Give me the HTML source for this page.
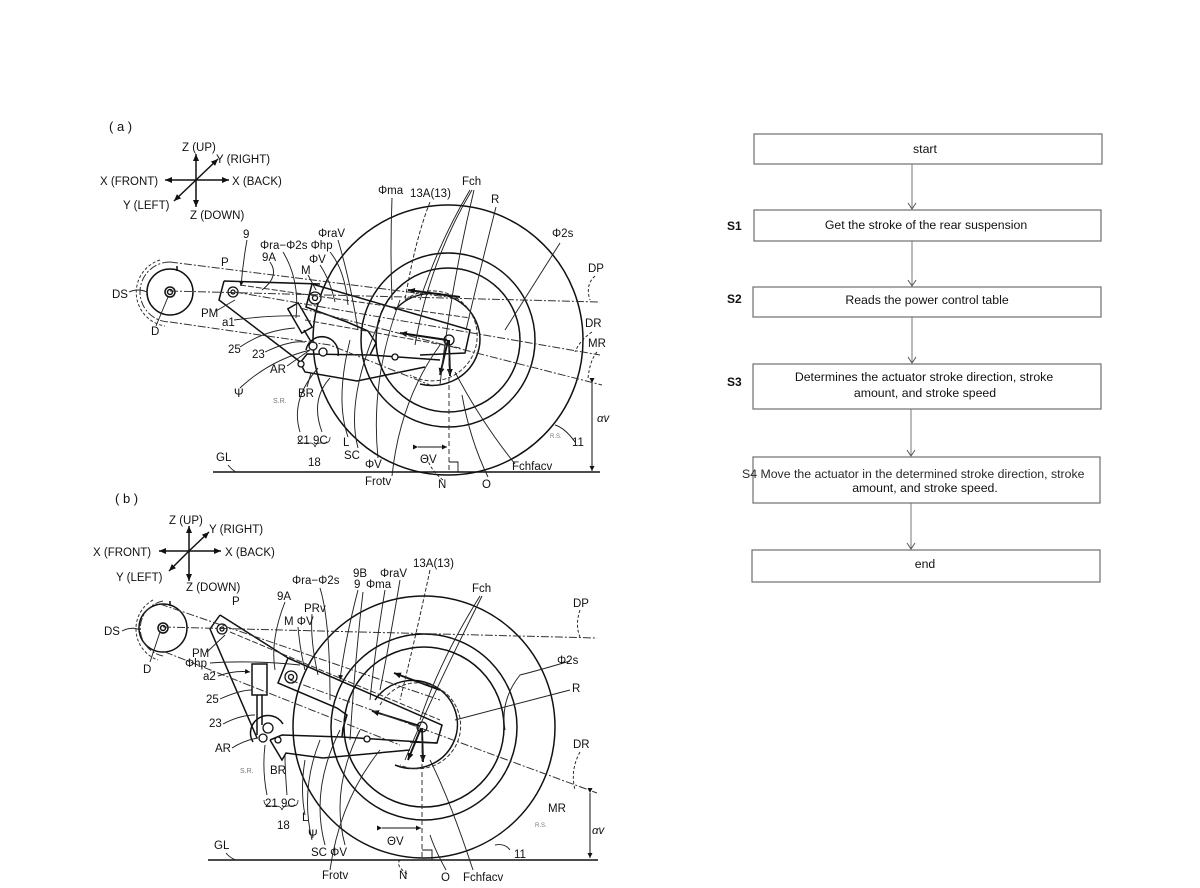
<!DOCTYPE html>
<html><head><meta charset="utf-8"><style>
html,body{margin:0;padding:0;background:#fff;}
svg{display:block;}
text{font-family:"Liberation Sans",sans-serif;fill:#111;}
.l{font-size:11.5px;}
.s{font-size:6px;fill:#777;}
.fc{font-size:12.3px;fill:#2a2a2a;}
</style></head><body>
<svg width="1200" height="888" viewBox="0 0 1200 888" xmlns="http://www.w3.org/2000/svg">
<defs>
<marker id="ah" markerWidth="8" markerHeight="8" refX="7" refY="4" orient="auto" markerUnits="userSpaceOnUse"><path d="M0,1 L7,4 L0,7 Z" fill="#111"/></marker>
<marker id="sh" markerWidth="6" markerHeight="6" refX="5" refY="3" orient="auto" markerUnits="userSpaceOnUse"><path d="M0,0.5 L5,3 L0,5.5 Z" fill="#111"/></marker>
<marker id="va" markerWidth="10" markerHeight="10" refX="9" refY="5" orient="auto" markerUnits="userSpaceOnUse"><path d="M3,1 L9,5 L3,9" fill="none" stroke="#555" stroke-width="1"/></marker>
</defs>
<rect width="1200" height="888" fill="#fff"/>

<!-- ================= FLOWCHART ================= -->
<g stroke="#6f6f6f" stroke-width="1.2" fill="#fff">
<rect x="754" y="134" width="348" height="30"/>
<rect x="754" y="210" width="347" height="31"/>
<rect x="753" y="287" width="348" height="30"/>
<rect x="753" y="364" width="348" height="45"/>
<rect x="753" y="457" width="347" height="46"/>
<rect x="752" y="550" width="348" height="32"/>
</g>
<g stroke="#777" stroke-width="1" fill="none">
<line x1="912" y1="164" x2="912" y2="209" marker-end="url(#va)"/>
<line x1="912" y1="241" x2="912" y2="286" marker-end="url(#va)"/>
<line x1="912" y1="317" x2="912" y2="363" marker-end="url(#va)"/>
<line x1="911" y1="409" x2="911" y2="456" marker-end="url(#va)"/>
<line x1="911" y1="503" x2="911" y2="549" marker-end="url(#va)"/>
</g>
<g text-anchor="middle" class="fc">
<text x="925" y="153">start</text>
<text x="926" y="229">Get the stroke of the rear suspension</text>
<text x="927" y="304">Reads the power control table</text>
<text x="924" y="381">Determines the actuator stroke direction, stroke</text>
<text x="925" y="397">amount, and stroke speed</text>
<text x="925" y="492">amount, and stroke speed.</text>
<text x="925" y="568">end</text>
</g>
<text x="742" y="478" class="fc">S4 Move the actuator in the determined stroke direction, stroke</text>
<g font-weight="bold" style="font-size:12px">
<text x="727" y="230">S1</text>
<text x="727" y="303">S2</text>
<text x="727" y="386">S3</text>
</g>

<!-- ================= DIAGRAM (a) ================= -->
<text x="109" y="131" style="font-size:13px">( a )</text>
<g stroke="#111" stroke-width="1.5" fill="none">
<line x1="196" y1="180" x2="196" y2="154" marker-end="url(#ah)"/>
<line x1="196" y1="180" x2="196" y2="207" marker-end="url(#ah)"/>
<line x1="196" y1="180" x2="165" y2="180" marker-end="url(#ah)"/>
<line x1="196" y1="180" x2="229" y2="180" marker-end="url(#ah)"/>
<line x1="196" y1="180" x2="218" y2="159" marker-end="url(#ah)"/>
<line x1="196" y1="180" x2="174" y2="201" marker-end="url(#ah)"/>
</g>
<g class="l">
<text x="182" y="151">Z (UP)</text>
<text x="216" y="163">Y (RIGHT)</text>
<text x="100" y="185">X (FRONT)</text>
<text x="232" y="185">X (BACK)</text>
<text x="123" y="209">Y (LEFT)</text>
<text x="190" y="219">Z (DOWN)</text>
</g>

<g stroke="#111" fill="none" stroke-width="1.5">
<circle cx="448" cy="340" r="135"/>
<circle cx="448" cy="340" r="87"/>
<circle cx="448" cy="340" r="72"/>
<path d="M 395 310 A 48 46 0 1 1 420 384" />
<circle cx="170" cy="292" r="23"/>
<circle cx="170" cy="292" r="5"/>
<circle cx="170" cy="292" r="2.5"/>
<line x1="177" y1="266" x2="177" y2="271"/>
<path d="M 224 281 L 320 284 M 224 281 L 219 300 L 303 364"/>
<path d="M 312 284 L 470 330 L 465 353 L 420 355 M 312 284 L 306 307 L 347 322 L 368 331 L 376 343 L 370 355"/>
<path d="M 300 363 L 307 354 L 370 355 L 440 360 M 300 363 L 305 372 L 357 381 L 425 367"/>
<path d="M 306 350 A 16 16 0 1 1 338 356"/>
<g transform="translate(300,318) rotate(-30)"><rect x="-6" y="-14" width="12" height="28"/></g>
<line x1="304" y1="330" x2="313" y2="345"/>
</g>
<g stroke="#111" fill="#fff" stroke-width="1.3">
<circle cx="233" cy="292" r="5"/><circle cx="233" cy="292" r="2"/>
<circle cx="315" cy="298" r="6"/><circle cx="315" cy="298" r="2.5"/>
<circle cx="313" cy="346" r="4"/>
<circle cx="323" cy="352" r="4"/>
<circle cx="301" cy="364" r="3"/>
<circle cx="395" cy="357" r="3"/>
<circle cx="449" cy="340" r="5"/>
</g>
<g stroke="#111" stroke-width="1.9" fill="none">
<line x1="460" y1="297" x2="408" y2="290" marker-end="url(#ah)"/>
<line x1="447" y1="340" x2="400" y2="333" marker-end="url(#ah)"/>
<line x1="448" y1="340" x2="440" y2="375" marker-end="url(#ah)"/>
<line x1="449" y1="340" x2="450" y2="376" marker-end="url(#ah)"/>
</g>
<g stroke="#333" stroke-width="1" fill="none" stroke-dasharray="8 2 2 2">
<line x1="170" y1="291" x2="600" y2="302"/>
<line x1="235" y1="292" x2="600" y2="355"/>
<line x1="300" y1="308" x2="602" y2="385"/>
<path d="M 170 262 L 448 297"/>
<path d="M 170 322 L 330 345 L 430 385"/>
<path d="M 170 262 A 30 30 0 0 0 170 322"/>
<path d="M 160 260 A 34 34 0 0 0 165 326" stroke-dasharray="3 2"/>
<line x1="449" y1="345" x2="449" y2="472" stroke-dasharray="5 3"/>
<path d="M 405 300 A 45 45 0 1 1 410 375" stroke-dasharray="4 2"/>
<line x1="240" y1="285" x2="470" y2="318" stroke-dasharray="6 2"/>
<line x1="305" y1="320" x2="460" y2="348" stroke-dasharray="6 2"/>
</g>
<g stroke="#111" stroke-width="1.5" fill="none">
<line x1="213" y1="472" x2="600" y2="472"/>
<line x1="592" y1="383" x2="592" y2="471" marker-start="url(#sh)" marker-end="url(#sh)" stroke-width="1"/>
<line x1="418" y1="447" x2="447" y2="447" marker-start="url(#sh)" marker-end="url(#sh)" stroke-width="1"/>
<path d="M 449 462 L 458 462 L 458 472" stroke-width="0.9"/>
</g>
<g stroke="#222" stroke-width="0.95" fill="none">
<path d="M 247 240 Q 243 262 241 286" marker-end="url(#sh)"/>
<path d="M 270 262 Q 280 276 262 290"/>
<path d="M 283 252 Q 300 280 296 318"/>
<path d="M 330 252 Q 345 270 348 305"/>
<path d="M 320 265 Q 330 280 335 302"/>
<path d="M 308 275 L 316 290"/>
<path d="M 338 240 Q 350 280 358 330"/>
<path d="M 392 198 Q 390 250 392 300"/>
<path d="M 430 202 Q 415 240 405 300" stroke-dasharray="4 2"/>
<path d="M 470 190 Q 440 240 420 300"/>
<path d="M 472 190 Q 430 260 415 345"/>
<path d="M 474 190 Q 450 290 440 385"/>
<path d="M 496 207 Q 480 270 466 330"/>
<path d="M 560 243 L 505 330"/>
<path d="M 595 276 Q 585 285 590 300" stroke-dasharray="3 2"/>
<path d="M 592 332 Q 580 340 575 352" stroke-dasharray="3 2"/>
<path d="M 597 352 Q 590 360 588 378" stroke-dasharray="3 2"/>
<path d="M 300 432 Q 290 400 318 368"/>
<path d="M 322 432 Q 310 400 330 378"/>
<path d="M 348 437 Q 335 400 350 340"/>
<path d="M 358 448 Q 345 400 380 320"/>
<path d="M 378 458 Q 370 380 400 300"/>
<path d="M 392 476 Q 400 400 440 345"/>
<path d="M 443 480 Q 430 470 426 455" stroke-dasharray="3 2"/>
<path d="M 488 477 Q 470 440 462 395"/>
<path d="M 515 464 Q 480 420 455 372"/>
<path d="M 575 442 Q 565 428 555 425"/>
<path d="M 240 388 Q 270 360 310 350"/>
<path d="M 287 366 L 310 350"/>
<path d="M 265 352 Q 290 340 305 342"/>
<path d="M 240 347 Q 265 330 295 328"/>
<path d="M 234 320 Q 270 315 300 316"/>
<path d="M 216 311 L 235 300"/>
<path d="M 307 387 L 311 373"/>
<path d="M 129 292 Q 138 288 147 292"/>
<path d="M 156 326 L 168 297"/>
<path d="M 298 437 Q 298 442 303 443 L 310 443 Q 314 443 315 447 Q 316 443 320 443 L 325 443 Q 330 443 330 437" stroke-width="0.8"/>
<path d="M 228 465 Q 232 470 236 472"/>
</g>
<g class="l">
<text x="243" y="238">9</text>
<text x="260" y="249">Φra−Φ2s Φhp</text>
<text x="318" y="237">ΦraV</text>
<text x="262" y="261">9A</text>
<text x="309" y="263">ΦV</text>
<text x="301" y="274">M</text>
<text x="221" y="266">P</text>
<text x="112" y="298">DS</text>
<text x="201" y="317">PM</text>
<text x="222" y="326">a1</text>
<text x="151" y="335">D</text>
<text x="228" y="353">25</text>
<text x="252" y="358">23</text>
<text x="270" y="373">AR</text>
<text x="234" y="397">Ψ</text>
<text x="298" y="397">BR</text>
<text x="297" y="444">21 9C</text>
<text x="308" y="466">18</text>
<text x="343" y="446">L</text>
<text x="344" y="459">SC</text>
<text x="365" y="468">ΦV</text>
<text x="365" y="485">Frotv</text>
<text x="378" y="194">Φma</text>
<text x="410" y="197">13A(13)</text>
<text x="462" y="185">Fch</text>
<text x="491" y="203">R</text>
<text x="552" y="237">Φ2s</text>
<text x="588" y="272">DP</text>
<text x="585" y="327">DR</text>
<text x="588" y="347">MR</text>
<text x="572" y="446">11</text>
<text x="597" y="422" style="font-style:italic">αv</text>
<text x="420" y="463">ΘV</text>
<text x="438" y="488">N</text>
<text x="482" y="488">O</text>
<text x="512" y="470">Fchfacv</text>
<text x="216" y="461">GL</text>
</g>
<text x="273" y="403" class="s" style="font-size:7px">S.R.</text>
<text x="550" y="438" class="s">R.S.</text>

<!-- ================= DIAGRAM (b) ================= -->
<text x="115" y="503" style="font-size:13px">( b )</text>
<g stroke="#111" stroke-width="1.5" fill="none">
<line x1="189" y1="551" x2="189" y2="526" marker-end="url(#ah)"/>
<line x1="189" y1="551" x2="189" y2="581" marker-end="url(#ah)"/>
<line x1="189" y1="551" x2="159" y2="551" marker-end="url(#ah)"/>
<line x1="189" y1="551" x2="221" y2="551" marker-end="url(#ah)"/>
<line x1="189" y1="551" x2="209" y2="532" marker-end="url(#ah)"/>
<line x1="189" y1="551" x2="169" y2="571" marker-end="url(#ah)"/>
</g>
<g class="l">
<text x="169" y="524">Z (UP)</text>
<text x="209" y="533">Y (RIGHT)</text>
<text x="93" y="556">X (FRONT)</text>
<text x="225" y="556">X (BACK)</text>
<text x="116" y="581">Y (LEFT)</text>
<text x="186" y="591">Z (DOWN)</text>
</g>

<g stroke="#111" fill="none" stroke-width="1.5">
<circle cx="424" cy="727" r="131"/>
<circle cx="424" cy="727" r="93"/>
<circle cx="424" cy="727" r="80"/>
<path d="M 375 700 A 45 44 0 1 1 395 765"/>
<circle cx="163" cy="628" r="24"/>
<circle cx="163" cy="628" r="5"/>
<circle cx="163" cy="628" r="2.5"/>
<line x1="170" y1="601" x2="170" y2="606"/>
<path d="M 220 615 L 210 629 L 257 738 M 220 615 L 288 658"/>
<path d="M 288 658 L 442 725 L 437 743 L 410 742 M 288 658 L 278 683 L 337 708 L 347 715 L 343 728 L 342 737"/>
<path d="M 270 740 L 282 735 L 342 737 L 437 743 M 270 740 L 282 760 L 286 753 L 323 758 L 410 750"/>
<path d="M 253 742 A 16 16 0 1 1 283 724"/>
<rect x="252" y="664" width="15" height="31"/>
<line x1="257" y1="695" x2="257" y2="735"/>
<line x1="262" y1="695" x2="262" y2="725"/>
</g>
<g stroke="#111" fill="#fff" stroke-width="1.3">
<circle cx="222" cy="629" r="5"/><circle cx="222" cy="629" r="2"/>
<circle cx="291" cy="677" r="6"/><circle cx="291" cy="677" r="2.5"/>
<circle cx="263" cy="738" r="4"/>
<circle cx="268" cy="728" r="5"/>
<circle cx="278" cy="740" r="3"/>
<circle cx="367" cy="739" r="3"/>
<circle cx="422" cy="727" r="5"/>
</g>
<g stroke="#111" stroke-width="1.9" fill="none">
<line x1="440" y1="690" x2="394" y2="673" marker-end="url(#ah)"/>
<line x1="420" y1="726" x2="372" y2="711" marker-end="url(#ah)"/>
<line x1="421" y1="728" x2="408" y2="760" marker-end="url(#ah)"/>
<line x1="422" y1="728" x2="423" y2="762" marker-end="url(#ah)"/>
</g>
<g stroke="#333" stroke-width="1" fill="none" stroke-dasharray="8 2 2 2">
<line x1="163" y1="627" x2="597" y2="638"/>
<line x1="290" y1="680" x2="597" y2="793"/>
<line x1="160" y1="604" x2="440" y2="700"/>
<line x1="165" y1="652" x2="400" y2="745"/>
<path d="M 163 601 A 28 28 0 0 0 163 656"/>
<path d="M 153 600 A 33 33 0 0 0 158 660" stroke-dasharray="3 2"/>
<line x1="422" y1="732" x2="422" y2="858" stroke-dasharray="5 3"/>
<path d="M 380 705 A 43 43 0 1 1 400 765" stroke-dasharray="4 2"/>
<line x1="230" y1="632" x2="440" y2="720" stroke-dasharray="6 2"/>
</g>
<g stroke="#111" stroke-width="1.5" fill="none">
<line x1="208" y1="860" x2="598" y2="860"/>
<line x1="590" y1="793" x2="590" y2="858" marker-start="url(#sh)" marker-end="url(#sh)" stroke-width="1"/>
<line x1="382" y1="828" x2="421" y2="828" marker-start="url(#sh)" marker-end="url(#sh)" stroke-width="1"/>
<path d="M 422 850 L 432 850 L 432 860" stroke-width="0.9"/>
</g>
<g stroke="#222" stroke-width="0.95" fill="none">
<path d="M 285 602 Q 270 640 275 670"/>
<path d="M 320 588 Q 330 620 330 700"/>
<path d="M 358 590 Q 345 640 340 680" marker-end="url(#sh)"/>
<path d="M 363 592 Q 355 660 350 740"/>
<path d="M 385 590 Q 375 650 370 700"/>
<path d="M 400 580 Q 390 640 380 690"/>
<path d="M 430 570 Q 415 640 400 700" stroke-dasharray="4 2"/>
<path d="M 480 596 Q 440 660 420 720"/>
<path d="M 482 596 Q 430 700 405 760"/>
<path d="M 312 614 Q 310 640 318 675"/>
<path d="M 298 627 Q 300 650 305 670"/>
<path d="M 570 661 Q 540 670 520 675 Q 500 700 505 730"/>
<path d="M 570 690 L 455 720"/>
<path d="M 580 610 Q 575 625 580 637" stroke-dasharray="3 2"/>
<path d="M 580 752 Q 570 770 575 790" stroke-dasharray="3 2"/>
<path d="M 330 870 Q 340 800 380 750"/>
<path d="M 407 874 Q 395 865 400 860" stroke-dasharray="3 2"/>
<path d="M 446 870 Q 435 850 430 835"/>
<path d="M 473 870 Q 450 800 430 760"/>
<path d="M 510 850 Q 505 843 495 845"/>
<path d="M 312 840 Q 300 790 320 740"/>
<path d="M 325 845 Q 310 790 340 730"/>
<path d="M 345 845 Q 330 790 360 730"/>
<path d="M 305 815 Q 300 790 305 760"/>
<path d="M 267 795 Q 262 770 265 745"/>
<path d="M 287 795 Q 285 770 285 755"/>
<path d="M 232 748 Q 245 740 258 738"/>
<path d="M 223 724 Q 240 715 255 715"/>
<path d="M 220 699 Q 240 690 252 690"/>
<path d="M 218 676 Q 235 670 250 672" marker-end="url(#sh)"/>
<path d="M 210 663 Q 250 660 300 665"/>
<path d="M 207 652 L 225 635"/>
<path d="M 122 631 Q 132 626 140 630"/>
<path d="M 150 662 L 160 632"/>
<path d="M 264 800 Q 264 806 270 806 L 276 806 Q 281 806 282 810 Q 283 806 288 806 L 293 806 Q 298 806 298 800" stroke-width="0.8"/>
<path d="M 226 853 Q 230 858 236 860"/>
</g>
<g class="l">
<text x="292" y="584">Φra−Φ2s</text>
<text x="353" y="577">9B</text>
<text x="354" y="588">9</text>
<text x="366" y="588">Φma</text>
<text x="380" y="577">ΦraV</text>
<text x="413" y="567">13A(13)</text>
<text x="277" y="600">9A</text>
<text x="232" y="605">P</text>
<text x="304" y="612">PRv</text>
<text x="284" y="625">M ΦV</text>
<text x="472" y="592">Fch</text>
<text x="573" y="607">DP</text>
<text x="557" y="664">Φ2s</text>
<text x="572" y="692">R</text>
<text x="573" y="748">DR</text>
<text x="548" y="812">MR</text>
<text x="592" y="834" style="font-style:italic">αv</text>
<text x="514" y="858">11</text>
<text x="387" y="845">ΘV</text>
<text x="322" y="879">Frotv</text>
<text x="399" y="879">N</text>
<text x="441" y="881">O</text>
<text x="463" y="881">Fchfacv</text>
<text x="308" y="838">Ψ</text>
<text x="311" y="856">SC ΦV</text>
<text x="302" y="821">L</text>
<text x="265" y="807">21 9C</text>
<text x="277" y="829">18</text>
<text x="270" y="774">BR</text>
<text x="215" y="752">AR</text>
<text x="209" y="727">23</text>
<text x="206" y="703">25</text>
<text x="214" y="849">GL</text>
<text x="104" y="635">DS</text>
<text x="143" y="673">D</text>
<text x="192" y="657">PM</text>
<text x="185" y="667">Φhp</text>
<text x="203" y="680">a2</text>
</g>
<text x="240" y="773" class="s" style="font-size:7px">S.R.</text>
<text x="535" y="827" class="s">R.S.</text>
</svg>
</body></html>
